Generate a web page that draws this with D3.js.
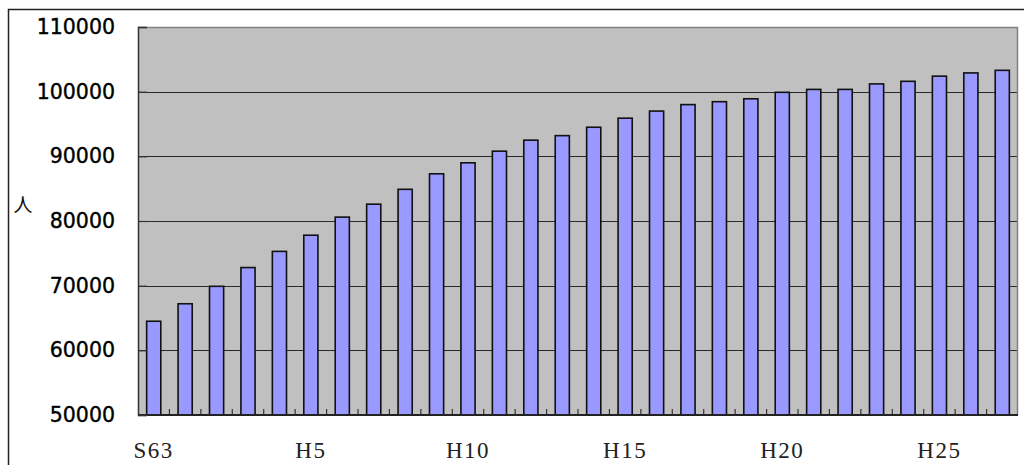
<!DOCTYPE html>
<html>
<head>
<meta charset="utf-8">
<script src="https://cdn.jsdelivr.net/npm/d3@7"></script>
<style>
  html, body { margin: 0; padding: 0; background: #fff; }
  svg { display: block; }
</style>
</head>
<body>
<svg id="chart" width="1024" height="465"></svg>
<script>
// Year labels (Showa 63 through Heisei 27)
const years = ["S63", "H1", "H2", "H3", "H4", "H5", "H6", "H7", "H8", "H9",
  "H10", "H11", "H12", "H13", "H14", "H15", "H16", "H17", "H18", "H19",
  "H20", "H21", "H22", "H23", "H24", "H25", "H26", "H27"];

// Population per year (persons)
const population = [64500, 67200, 69900, 72800, 75300, 77800, 80600, 82600, 84900, 87300,
  89000, 90800, 92500, 93200, 94500, 95900, 97000, 98000, 98450, 98900,
  99900, 100350, 100350, 101200, 101600, 102400, 102900, 103300];

// Labelled years on the category axis
const shownYears = ["S63", "H5", "H10", "H15", "H20", "H25"];

// Value axis ticks
const yTicks = [50000, 60000, 70000, 80000, 90000, 100000, 110000];

const svg = d3.select("#chart");
const plot = { left: 138, right: 1018, top: 27, bottom: 415 };

// Outer frame (extends past the right and bottom edges of the page)
svg.append("rect")
  .attr("x", 8.5).attr("y", 9.5)
  .attr("width", 1030).attr("height", 480)
  .attr("fill", "#fff")
  .attr("stroke", "#222").attr("stroke-width", 1.5);

const x = d3.scaleBand()
  .domain(years)
  .range([plot.left, plot.right])
  .paddingInner(0.55)
  .paddingOuter(0.275);

const y = d3.scaleLinear()
  .domain([50000, 110000])
  .range([plot.bottom, plot.top]);

// Plot area background
svg.append("rect")
  .attr("x", plot.left).attr("y", plot.top)
  .attr("width", plot.right - plot.left)
  .attr("height", plot.bottom - plot.top)
  .attr("fill", "#c0c0c0");

// Horizontal gridlines
svg.append("g")
  .selectAll("line")
  .data(yTicks.filter(v => v > 50000 && v < 110000))
  .join("line")
  .attr("x1", plot.left).attr("x2", plot.right)
  .attr("y1", d => Math.round(y(d)) + 0.5).attr("y2", d => Math.round(y(d)) + 0.5)
  .attr("stroke", "#2a2a2a").attr("stroke-width", 1.2);

// Plot area top and right border
svg.append("path")
  .attr("d", `M${plot.left},${plot.top + 0.5}H${plot.right - 0.5}V${plot.bottom}`)
  .attr("fill", "none")
  .attr("stroke", "#808080").attr("stroke-width", 1.5);

// Bars
svg.append("g")
  .selectAll("rect")
  .data(years.map((yr, i) => ({ yr, v: population[i] })))
  .join("rect")
  .attr("x", d => x(d.yr))
  .attr("y", d => y(d.v))
  .attr("width", x.bandwidth())
  .attr("height", d => y(50000) - y(d.v))
  .attr("fill", "#9999ff")
  .attr("stroke", "#111").attr("stroke-width", 1.6);

// Category axis: inward ticks at band boundaries, labels every five years
const xAxis = svg.append("g").attr("transform", `translate(0,${plot.bottom})`);
const step = x.step();
xAxis.selectAll("line.tick")
  .data(d3.range(1, years.length))
  .join("line")
  .attr("class", "tick")
  .attr("x1", i => plot.left + i * step).attr("x2", i => plot.left + i * step)
  .attr("y1", 0).attr("y2", -6)
  .attr("stroke", "#333").attr("stroke-width", 1.2);
xAxis.append("line")
  .attr("x1", plot.left).attr("x2", plot.right)
  .attr("y1", 0).attr("y2", 0)
  .attr("stroke", "#222").attr("stroke-width", 1.8);
xAxis.selectAll("text")
  .data(shownYears)
  .join("text")
  .attr("x", d => x(d) + x.bandwidth() / 2)
  .attr("y", 43)
  .attr("text-anchor", "middle")
  .attr("font-family", "'Liberation Serif', serif")
  .attr("font-size", 23)
  .attr("letter-spacing", 1.5)
  .attr("fill", "#222")
  .text(d => d);

// Value axis with inward ticks
const yAxis = d3.axisLeft(y)
  .tickValues(yTicks)
  .tickSize(-9)
  .tickPadding(23)
  .tickFormat(d3.format("d"));
const gy = svg.append("g")
  .attr("transform", `translate(${plot.left},0)`)
  .call(yAxis);
gy.select(".domain").attr("stroke", "#333").attr("stroke-width", 1.5);
gy.selectAll(".tick line").attr("stroke", "#333").attr("stroke-width", 1.2);
gy.selectAll(".tick text")
  .attr("font-family", "'DejaVu Sans', sans-serif")
  .attr("font-size", 20.5)
  .attr("fill", "#000")
  .attr("stroke", "#000")
  .attr("stroke-width", 0.4);

// Unit label
svg.append("text")
  .attr("x", 23).attr("y", 212)
  .attr("text-anchor", "middle")
  .attr("font-family", "'Noto Sans CJK JP', sans-serif")
  .attr("font-size", 19)
  .attr("fill", "#111")
  .text("人");
</script>
</body>
</html>
